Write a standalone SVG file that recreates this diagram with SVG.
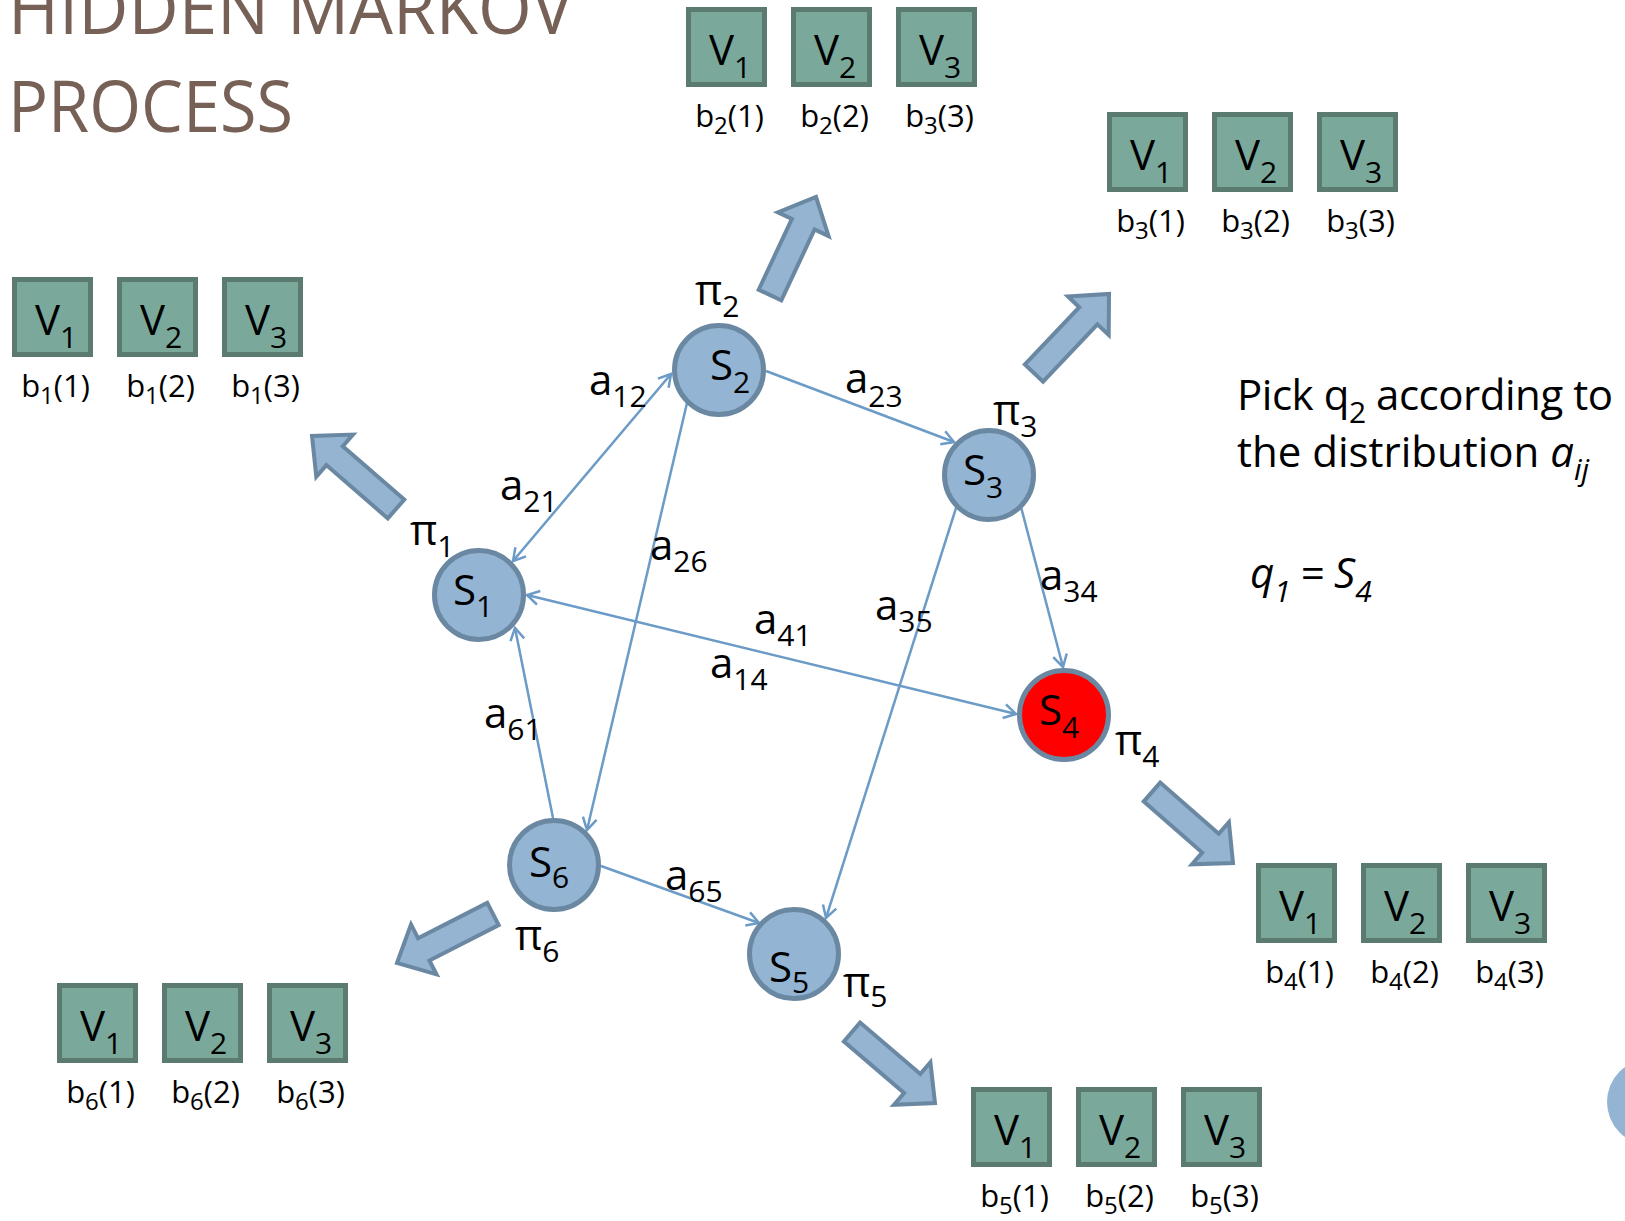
<svg xmlns="http://www.w3.org/2000/svg" width="1625" height="1221" viewBox="0 0 1625 1221">
<style>
text{font-family:"Open Sans","Liberation Sans",sans-serif;fill:#000}
.title{font-size:71px;fill:#776055}
.lbl{font-size:42px}
.sub{font-size:30px}
.bl{font-size:31px;text-anchor:middle}
.bsub{font-size:24px}
.box{fill:#7aa99b;stroke:#5b7b70;stroke-width:5}
.st{fill:#93b4d2;stroke:#6b88a2;stroke-width:5}
.st4{fill:#ff0000;stroke:#6b88a2;stroke-width:5}
.blk{fill:#94b4d2;stroke:#6b88a3;stroke-width:4;stroke-linejoin:miter}
.edge{stroke:#6b9bc6;stroke-width:2.5;fill:none}
.it{font-style:italic}
</style>
<defs>
<marker id="ah" viewBox="-14 -9 16 18" refX="0" refY="0" markerWidth="16" markerHeight="18" markerUnits="userSpaceOnUse" orient="auto-start-reverse">
<path d="M-12,-7 L0,0 L-12,7" fill="none" stroke="#6b9bc6" stroke-width="2.5"/>
</marker>
<g id="vb">
<rect class="box" x="2.5" y="2.5" width="76" height="75"/>
</g>
</defs>
<rect width="1625" height="1221" fill="#fff"/>

<g id="title">
<text class="title" x="8" y="34" textLength="565" lengthAdjust="spacingAndGlyphs">HIDDEN MARKOV</text>
<text class="title" x="8" y="132" textLength="285" lengthAdjust="spacingAndGlyphs">PROCESS</text>
</g>

<circle cx="1650" cy="1102" r="43" fill="#93b4d2"/>

<g id="connectors">
<line class="edge" x1="513" y1="561" x2="671" y2="374" marker-start="url(#ah)" marker-end="url(#ah)"/>
<line class="edge" x1="766" y1="371" x2="954" y2="442" marker-end="url(#ah)"/>
<line class="edge" x1="687" y1="403" x2="587" y2="830" marker-end="url(#ah)"/>
<line class="edge" x1="1021" y1="507" x2="1063" y2="667" marker-end="url(#ah)"/>
<line class="edge" x1="956" y1="508" x2="826" y2="918" marker-end="url(#ah)"/>
<line class="edge" x1="527" y1="595" x2="1016" y2="714" marker-start="url(#ah)" marker-end="url(#ah)"/>
<line class="edge" x1="553" y1="818" x2="515" y2="628" marker-end="url(#ah)"/>
<line class="edge" x1="601" y1="866" x2="759" y2="923" marker-end="url(#ah)"/>
<text class="lbl" x="589" y="395">a<tspan class="sub" dy="12">12</tspan></text>
<text class="lbl" x="500" y="500">a<tspan class="sub" dy="12">21</tspan></text>
<text class="lbl" x="845" y="393">a<tspan class="sub" dy="14">23</tspan></text>
<text class="lbl" x="650" y="560">a<tspan class="sub" dy="12">26</tspan></text>
<text class="lbl" x="1040" y="590">a<tspan class="sub" dy="12">34</tspan></text>
<text class="lbl" x="875" y="620">a<tspan class="sub" dy="12">35</tspan></text>
<text class="lbl" x="754" y="634">a<tspan class="sub" dy="12">41</tspan></text>
<text class="lbl" x="710" y="678">a<tspan class="sub" dy="12">14</tspan></text>
<text class="lbl" x="484" y="728">a<tspan class="sub" dy="12">61</tspan></text>
<text class="lbl" x="665" y="890">a<tspan class="sub" dy="12">65</tspan></text>
</g>

<g id="emit-arrows">
<polygon class="blk" points="404.2,499.6 342.8,446.3 353,434.6 312,436 316.3,476.8 326.4,465.1 387.8,518.4"/>
<polygon class="blk" points="781.3,300.3 814.6,229.5 828.6,236.1 816,197 777.9,212.3 791.9,218.9 758.7,289.7"/>
<polygon class="blk" points="1043.1,381.6 1097.4,324.4 1108.7,335 1109,294 1068,296.5 1079.3,307.2 1024.9,364.4"/>
<polygon class="blk" points="1143.8,801.4 1202.2,852.6 1192,864.3 1233,863 1228.9,822.2 1218.7,833.8 1160.2,782.6"/>
<polygon class="blk" points="843.9,1041.5 904.1,1093 894,1104.8 935,1103 930.4,1062.2 920.3,1074 860.1,1022.5"/>
<polygon class="blk" points="487.3,902.9 418,938.2 411,924.4 397,963 436.5,974.3 429.4,960.5 498.7,925.1"/>
</g>

<g id="S1">
<circle class="st" cx="479" cy="595" r="44.5"/>
<text class="lbl" x="453" y="605">S<tspan class="sub" dy="12">1</tspan></text>
<text class="lbl" x="410" y="545">π<tspan class="sub" dy="12">1</tspan></text>
</g>
<g id="S2">
<circle class="st" cx="719" cy="370" r="44.5"/>
<text class="lbl" x="710" y="380">S<tspan class="sub" dy="13">2</tspan></text>
<text class="lbl" x="695" y="305">π<tspan class="sub" dy="12">2</tspan></text>
</g>
<g id="S3">
<circle class="st" cx="989" cy="475" r="44.5"/>
<text class="lbl" x="963" y="485">S<tspan class="sub" dy="13">3</tspan></text>
<text class="lbl" x="993" y="425">π<tspan class="sub" dy="12">3</tspan></text>
</g>
<g id="S4">
<circle class="st4" cx="1064" cy="715" r="44.5"/>
<text class="lbl" x="1039" y="725">S<tspan class="sub" dy="13">4</tspan></text>
<text class="lbl" x="1115" y="755">π<tspan class="sub" dy="12">4</tspan></text>
</g>
<g id="S5">
<circle class="st" cx="794" cy="954" r="44.5"/>
<text class="lbl" x="769" y="982">S<tspan class="sub" dy="11">5</tspan></text>
<text class="lbl" x="843" y="997">π<tspan class="sub" dy="10">5</tspan></text>
</g>
<g id="S6">
<circle class="st" cx="554" cy="865" r="44.5"/>
<text class="lbl" x="529" y="877">S<tspan class="sub" dy="11">6</tspan></text>
<text class="lbl" x="515" y="950">π<tspan class="sub" dy="12">6</tspan></text>
</g>

<g id="obs1">
<use href="#vb" x="12" y="277"/><use href="#vb" x="117" y="277"/><use href="#vb" x="222" y="277"/>
<text class="lbl" x="35" y="335">V<tspan class="sub" dy="13">1</tspan></text>
<text class="lbl" x="140" y="335">V<tspan class="sub" dy="13">2</tspan></text>
<text class="lbl" x="245" y="335">V<tspan class="sub" dy="13">3</tspan></text>
<text class="bl" x="55.5" y="397">b<tspan class="bsub" dy="7">1</tspan><tspan dy="-7">(1)</tspan></text>
<text class="bl" x="160.5" y="397">b<tspan class="bsub" dy="7">1</tspan><tspan dy="-7">(2)</tspan></text>
<text class="bl" x="265.5" y="397">b<tspan class="bsub" dy="7">1</tspan><tspan dy="-7">(3)</tspan></text>
</g>
<g id="obs2">
<use href="#vb" x="686" y="7"/><use href="#vb" x="791" y="7"/><use href="#vb" x="896" y="7"/>
<text class="lbl" x="709" y="65">V<tspan class="sub" dy="13">1</tspan></text>
<text class="lbl" x="814" y="65">V<tspan class="sub" dy="13">2</tspan></text>
<text class="lbl" x="919" y="65">V<tspan class="sub" dy="13">3</tspan></text>
<text class="bl" x="729.5" y="127">b<tspan class="bsub" dy="7">2</tspan><tspan dy="-7">(1)</tspan></text>
<text class="bl" x="834.5" y="127">b<tspan class="bsub" dy="7">2</tspan><tspan dy="-7">(2)</tspan></text>
<text class="bl" x="939.5" y="127">b<tspan class="bsub" dy="7">3</tspan><tspan dy="-7">(3)</tspan></text>
</g>
<g id="obs3">
<use href="#vb" x="1107" y="112"/><use href="#vb" x="1212" y="112"/><use href="#vb" x="1317" y="112"/>
<text class="lbl" x="1130" y="170">V<tspan class="sub" dy="13">1</tspan></text>
<text class="lbl" x="1235" y="170">V<tspan class="sub" dy="13">2</tspan></text>
<text class="lbl" x="1340" y="170">V<tspan class="sub" dy="13">3</tspan></text>
<text class="bl" x="1150.5" y="232">b<tspan class="bsub" dy="7">3</tspan><tspan dy="-7">(1)</tspan></text>
<text class="bl" x="1255.5" y="232">b<tspan class="bsub" dy="7">3</tspan><tspan dy="-7">(2)</tspan></text>
<text class="bl" x="1360.5" y="232">b<tspan class="bsub" dy="7">3</tspan><tspan dy="-7">(3)</tspan></text>
</g>
<g id="obs4">
<use href="#vb" x="1256" y="863"/><use href="#vb" x="1361" y="863"/><use href="#vb" x="1466" y="863"/>
<text class="lbl" x="1279" y="921">V<tspan class="sub" dy="13">1</tspan></text>
<text class="lbl" x="1384" y="921">V<tspan class="sub" dy="13">2</tspan></text>
<text class="lbl" x="1489" y="921">V<tspan class="sub" dy="13">3</tspan></text>
<text class="bl" x="1299.5" y="983">b<tspan class="bsub" dy="7">4</tspan><tspan dy="-7">(1)</tspan></text>
<text class="bl" x="1404.5" y="983">b<tspan class="bsub" dy="7">4</tspan><tspan dy="-7">(2)</tspan></text>
<text class="bl" x="1509.5" y="983">b<tspan class="bsub" dy="7">4</tspan><tspan dy="-7">(3)</tspan></text>
</g>
<g id="obs5">
<use href="#vb" x="971" y="1087"/><use href="#vb" x="1076" y="1087"/><use href="#vb" x="1181" y="1087"/>
<text class="lbl" x="994" y="1145">V<tspan class="sub" dy="13">1</tspan></text>
<text class="lbl" x="1099" y="1145">V<tspan class="sub" dy="13">2</tspan></text>
<text class="lbl" x="1204" y="1145">V<tspan class="sub" dy="13">3</tspan></text>
<text class="bl" x="1014.5" y="1207">b<tspan class="bsub" dy="7">5</tspan><tspan dy="-7">(1)</tspan></text>
<text class="bl" x="1119.5" y="1207">b<tspan class="bsub" dy="7">5</tspan><tspan dy="-7">(2)</tspan></text>
<text class="bl" x="1224.5" y="1207">b<tspan class="bsub" dy="7">5</tspan><tspan dy="-7">(3)</tspan></text>
</g>
<g id="obs6">
<use href="#vb" x="57" y="983"/><use href="#vb" x="162" y="983"/><use href="#vb" x="267" y="983"/>
<text class="lbl" x="80" y="1041">V<tspan class="sub" dy="13">1</tspan></text>
<text class="lbl" x="185" y="1041">V<tspan class="sub" dy="13">2</tspan></text>
<text class="lbl" x="290" y="1041">V<tspan class="sub" dy="13">3</tspan></text>
<text class="bl" x="100.5" y="1103">b<tspan class="bsub" dy="7">6</tspan><tspan dy="-7">(1)</tspan></text>
<text class="bl" x="205.5" y="1103">b<tspan class="bsub" dy="7">6</tspan><tspan dy="-7">(2)</tspan></text>
<text class="bl" x="310.5" y="1103">b<tspan class="bsub" dy="7">6</tspan><tspan dy="-7">(3)</tspan></text>
</g>

<g id="note">
<text class="lbl" x="1237" y="410" textLength="376">Pick q<tspan class="sub" dy="13">2</tspan><tspan dy="-13"> according to</tspan></text>
<text class="lbl" x="1237" y="467">the distribution <tspan class="it">a</tspan><tspan class="sub it" dy="13">ij</tspan></text>
<text class="lbl it" x="1250" y="588">q<tspan class="sub" dy="14">1</tspan><tspan x="1300" dy="-14">=</tspan><tspan x="1334">S</tspan><tspan class="sub" dy="14">4</tspan></text>
</g>
</svg>
